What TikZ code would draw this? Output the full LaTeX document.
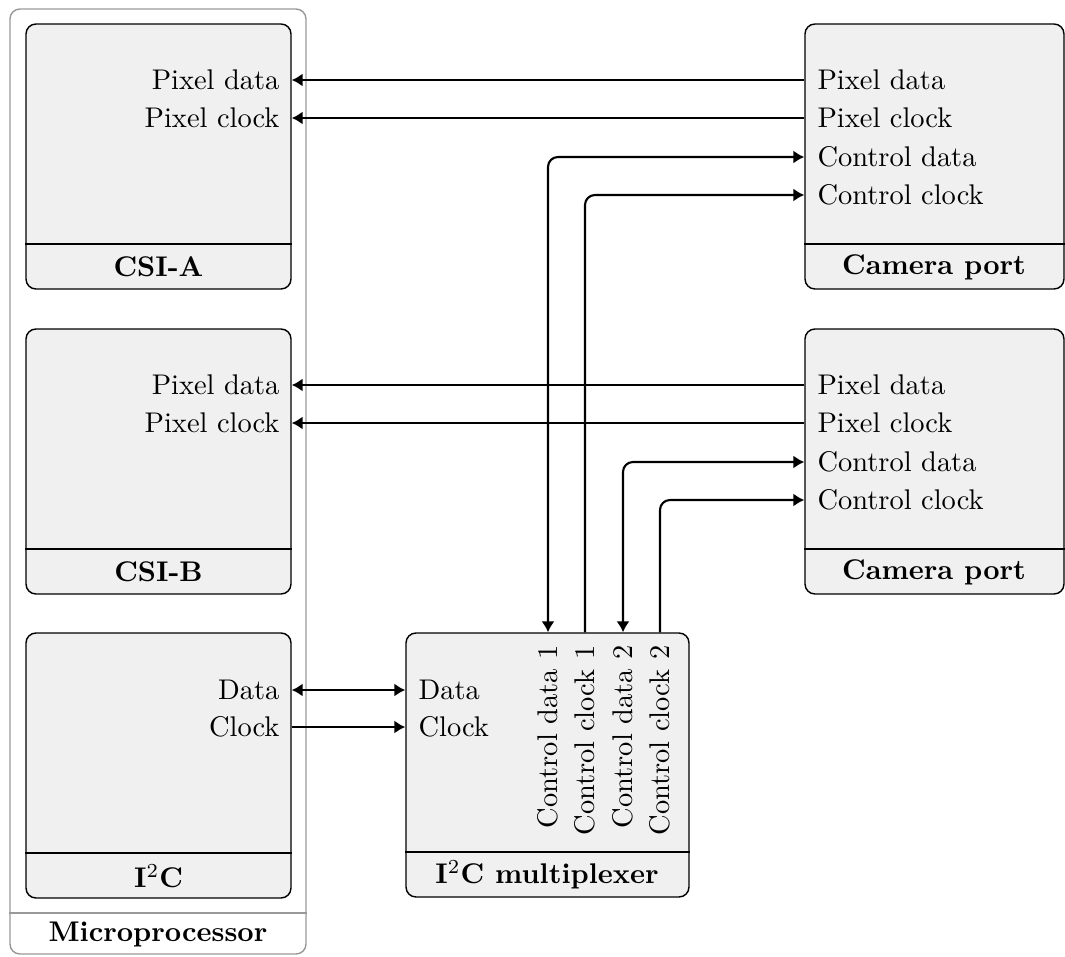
\documentclass[tikz,border=0pt]{standalone}
\usetikzlibrary{arrows.meta,fit}
\definecolor{boxfill}{gray}{0.94}
\definecolor{outergray}{gray}{0.6}
\begin{document}
\begin{tikzpicture}[x=0.3515pt,y=-0.3515pt,
  box/.style={draw=black, fill=boxfill, rounded corners=3.5pt, line width=0.5pt, inner sep=0pt},
  outerbox/.style={draw=outergray, rounded corners=3.5pt, line width=0.5pt, inner sep=0pt},
  sep/.style={line width=0.5pt},
  lbl/.style={inner sep=0pt},
  ttl/.style={inner sep=0pt, font=\bfseries},
  conn/.style={line width=0.75pt, rounded corners=3.5pt},
  >={Latex[length=3.8pt,width=4.6pt]}]
\useasboundingbox (0,0) rectangle (1065,956);

% Microprocessor
\node[outerbox, fit={(10,9)(306,954)}] (mp) {};
\draw[outergray, line width=0.5pt] (mp.west |- 0,913) -- (mp.east |- 0,913);
\node[ttl] (mptitle) at (158,934) {Microprocessor};

% CSI-A
\node[box, fit={(26,24)(291,289)}] (csia) {};
\draw[sep] (csia.west |- 0,244) -- (csia.east |- 0,244);
\node[ttl] (csiatitle) at (158.5,267) {CSI-A};
\node[lbl, anchor=east] (apd) at (280,80) {Pixel data};
\node[lbl, anchor=east] (apc) at (280,118) {Pixel clock};

% CSI-B
\node[box, fit={(26,329)(291,594)}] (csib) {};
\draw[sep] (csib.west |- 0,549) -- (csib.east |- 0,549);
\node[ttl] (csibtitle) at (158.5,572) {CSI-B};
\node[lbl, anchor=east] (bpd) at (280,385) {Pixel data};
\node[lbl, anchor=east] (bpc) at (280,423) {Pixel clock};

% I2C
\node[box, fit={(26,633)(291,898)}] (i2c) {};
\draw[sep] (i2c.west |- 0,853) -- (i2c.east |- 0,853);
\node[ttl] (i2ctitle) at (158.5,876) {I$^2$C};
\node[lbl, anchor=east] (idata) at (280,690) {Data};
\node[lbl, anchor=east] (iclk) at (280,727) {Clock};

% Camera port 1
\node[box, fit={(805,24)(1064,289)}] (cam1) {};
\draw[sep] (cam1.west |- 0,244) -- (cam1.east |- 0,244);
\node[ttl] (cam1title) at (934,267) {Camera port};
\node[lbl, anchor=west] (c1pd) at (817,80) {Pixel data};
\node[lbl, anchor=west] (c1pc) at (817,118) {Pixel clock};
\node[lbl, anchor=west] (c1cd) at (817,157) {Control data};
\node[lbl, anchor=west] (c1cc) at (817,195) {Control clock};

% Camera port 2
\node[box, fit={(805,329)(1064,594)}] (cam2) {};
\draw[sep] (cam2.west |- 0,549) -- (cam2.east |- 0,549);
\node[ttl] (cam2title) at (934,572) {Camera port};
\node[lbl, anchor=west] (c2pd) at (817,385) {Pixel data};
\node[lbl, anchor=west] (c2pc) at (817,423) {Pixel clock};
\node[lbl, anchor=west] (c2cd) at (817,462) {Control data};
\node[lbl, anchor=west] (c2cc) at (817,500) {Control clock};

% I2C multiplexer
\node[box, fit={(406,633)(689,897)}] (mux) {};
\draw[sep] (mux.west |- 0,852) -- (mux.east |- 0,852);
\node[ttl] (muxtitle) at (547,875) {I$^2$C multiplexer};
\node[lbl, anchor=west] (mdata) at (418,690) {Data};
\node[lbl, anchor=west] (mclk) at (418,727) {Clock};
\node[lbl, rotate=90, anchor=east] (mcd1) at (548,645) {Control data 1};
\node[lbl, rotate=90, anchor=east] (mcc1) at (585,645) {Control clock 1};
\node[lbl, rotate=90, anchor=east] (mcd2) at (623,645) {Control data 2};
\node[lbl, rotate=90, anchor=east] (mcc2) at (660,645) {Control clock 2};

% Connectors
\draw[conn,<-] (csia.east |- apd) -- (cam1.west |- c1pd);
\draw[conn,<-] (csia.east |- apc) -- (cam1.west |- c1pc);
\draw[conn,<-] (csib.east |- bpd) -- (cam2.west |- c2pd);
\draw[conn,<-] (csib.east |- bpc) -- (cam2.west |- c2pc);
\draw[conn,<->] (i2c.east |- idata) -- (mux.west |- mdata);
\draw[conn,->] (i2c.east |- iclk) -- (mux.west |- mclk);
\draw[conn,<->] (mux.north -| mcd1) -- (mcd1 |- c1cd) -- (cam1.west |- c1cd);
\draw[conn,->] (mux.north -| mcc1) -- (mcc1 |- c1cc) -- (cam1.west |- c1cc);
\draw[conn,<->] (mux.north -| mcd2) -- (mcd2 |- c2cd) -- (cam2.west |- c2cd);
\draw[conn,->] (mux.north -| mcc2) -- (mcc2 |- c2cc) -- (cam2.west |- c2cc);
\end{tikzpicture}
\end{document}
